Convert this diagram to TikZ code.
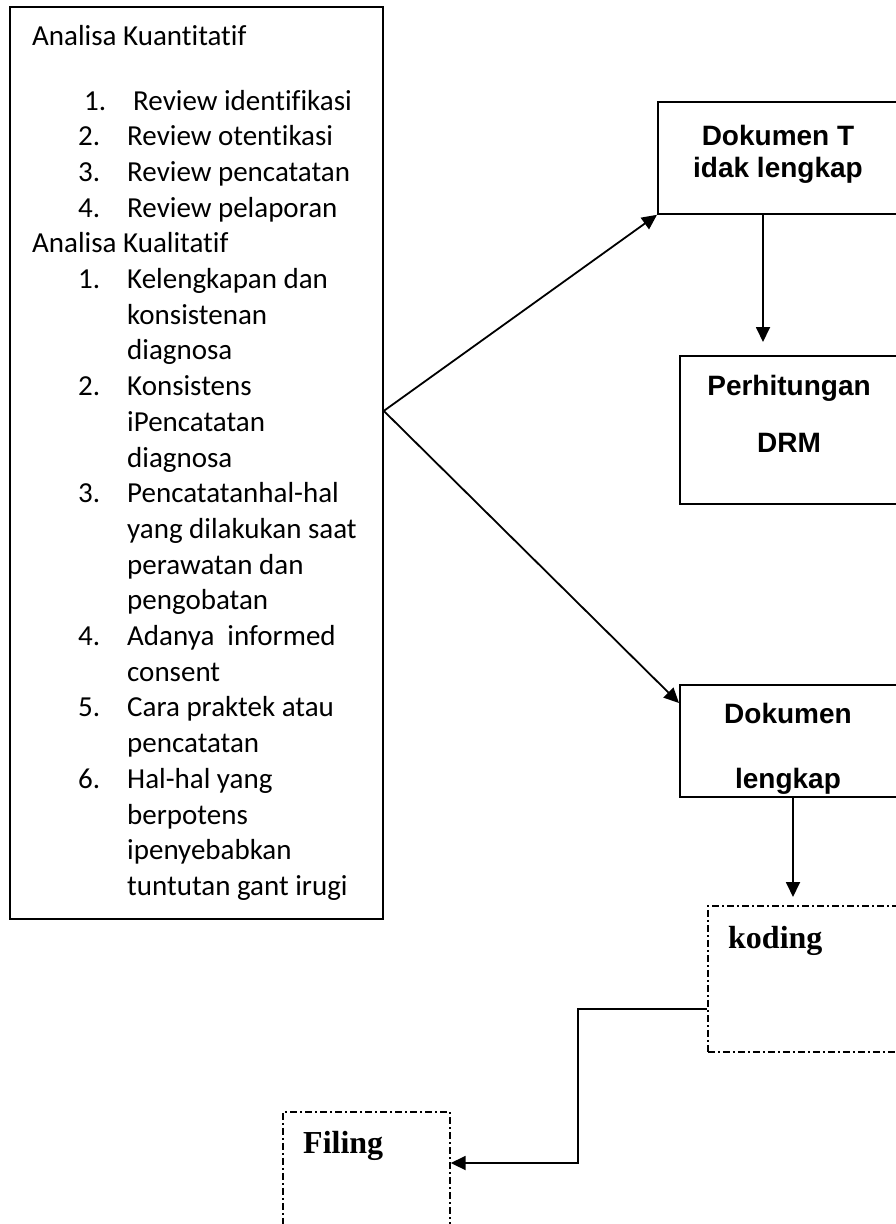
\documentclass[tikz,border=0pt]{standalone}
\usepackage{fontspec}
\setmainfont{Carlito}[RawFeature={-liga;-clig;-calt;-dlig}]
\newfontfamily\docfont{Liberation Sans}
\newfontfamily\stagefont{Liberation Serif}
\usepackage{tikz}
\usetikzlibrary{arrows.meta, calc, positioning}

\tikzset{
    box/.style={draw, line width=1.8pt, inner sep=0pt, anchor=north west},
    dashbox/.style={box, line width=1.7pt, dash pattern=on 7pt off 3pt on 2pt off 3pt},
    flow/.style={line width=1.8pt, -{Triangle[length=15pt, width=14pt]}},
    listtext/.style={anchor=base west, inner sep=0pt, font=\fontsize{29}{34}\selectfont},
    doctext/.style={anchor=base, inner sep=0pt, font=\docfont\bfseries\fontsize{28}{34}\selectfont},
    stagetext/.style={anchor=base west, inner sep=0pt, font=\stagefont\bfseries\fontsize{32}{38}\selectfont},
}

\begin{document}
\begin{tikzpicture}[x=1pt, y=-1pt]
    \useasboundingbox (0,0) rectangle (896,1224);
    \clip (0,0) rectangle (896,1224);

    % === Analisa box (left column) ===
    \node[box, minimum width=373pt, minimum height=912pt] (analisa) at (9,6) {};
    \node[listtext] (kuan) at (32,45) {Analisa Kuantitatif};
    \foreach \xx/\num/\txt [count=\k] in {
        133/1./Review identifikasi,
        127/2./Review otentikasi,
        127/3./Review pencatatan,
        127/4./Review pelaporan,
        32//Analisa Kualitatif,
        127/1./Kelengkapan dan,
        127//konsistenan,
        127//diagnosa,
        127/2./Konsistens,
        127//iPencatatan,
        127//diagnosa,
        127/3./Pencatatanhal-hal,
        127//yang dilakukan saat,
        127//perawatan dan,
        127//pengobatan,
        127/4./Adanya\ \ informed,
        127//consent,
        127/5./Cara praktek atau,
        127//pencatatan,
        127/6./Hal-hal yang,
        127//berpotens,
        127//ipenyebabkan,
        127//tuntutan gant irugi}
    {
        \node[listtext] (t\k) at ({\xx},{110+35.7*(\k-1)}) {\txt};
        \node[listtext] (n\k) at ({\xx-49},{110+35.7*(\k-1)}) {\num};
    }

    % === Document boxes (right column) ===
    \node[box, minimum width=242pt, minimum height=112pt] (dokT) at (657,101) {};
    \node[doctext] (dokT1) at (778,145) {Dokumen T};
    \node[doctext] (dokT2) at (778,177) {idak lengkap};

    \node[box, minimum width=220pt, minimum height=148pt] (drm) at (679,355) {};
    \node[doctext] (drm1) at (789,395) {Perhitungan};
    \node[doctext] (drm2) at (789,452) {DRM};

    \node[box, minimum width=220pt, minimum height=112pt] (dokL) at (679,684) {};
    \node[doctext] (dokL1) at (788,723) {Dokumen};
    \begin{scope}
        \clip (dokL.north west) rectangle (dokL.south east);
        \node[doctext] (dokL2) at (788,788) {lengkap};
    \end{scope}

    % === Coding and filing ===
    \node[dashbox, minimum width=195pt, minimum height=146pt] (kod) at (707,905) {};
    \node[stagetext] (kod1) at (728,948) {koding};

    \node[dashbox, minimum width=167pt, minimum height=130pt] (fil) at (282,1111) {};
    \node[stagetext] (fil1) at (303,1153) {Filing};

    % === Connectors ===
    \coordinate (fork) at ($(analisa.east)+(0,-52)$);
    \draw[flow] (fork) -- (dokT.south west);
    \draw[flow] (fork) -- ($(dokL.north west)+(0,19)$);

    \coordinate (a1) at ($(dokT.south west)+(106,0)$);
    \draw[flow, shorten >=13pt] (a1) -- (a1 |- drm.north);

    \coordinate (a2) at ($(dokL.south west)+(114,0)$);
    \draw[flow, shorten >=8pt] (a2) -- (a2 |- kod.north);

    \coordinate (a3) at ($(kod.west)+(0,30)$);
    \coordinate (bend) at (578,1163);
    \draw[flow] (a3) -| (bend) -- (bend -| fil.east);

\end{tikzpicture}
\end{document}
